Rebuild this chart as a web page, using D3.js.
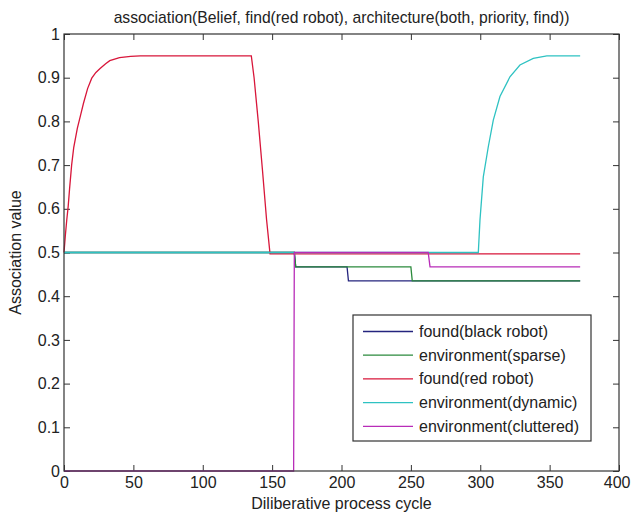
<!DOCTYPE html>
<html><head><meta charset="utf-8">
<script src="https://cdn.jsdelivr.net/npm/d3@7"></script>
<style>body{margin:0;background:#fff}svg{display:block}text{font-family:"Liberation Sans",Arial,sans-serif;fill:#222}</style>
</head><body><svg id="c" width="631" height="518"></svg>
<script>
const titleText = "association(Belief, find(red robot), architecture(both, priority, find))";
const xLabel = "Diliberative process cycle";
const yLabel = "Association value";
const xTicks = [0,50,100,150,200,250,300,350,400];
const yTicks = [0,0.1,0.2,0.3,0.4,0.5,0.6,0.7,0.8,0.9,1];
const seriesNames = ["found(black robot)","environment(sparse)","found(red robot)","environment(dynamic)","environment(cluttered)"];
const seriesColors = ["#24247e","#2b8a3c","#d8163a","#2ec2c2","#b82cb8"];

const cycBlack = [0,166,167,204,205,372];
const valBlack = [0.5,0.5,0.467,0.467,0.435,0.435];
const cycSparse = [0,166,167,250,251,372];
const valSparse = [0.5,0.5,0.467,0.467,0.435,0.435];
const cycRed = [0,1,2,3,4,5.5,7,9.6,12,14,17,20,23,26,30,33,40,48,55,135,137,140,143,146,148.5,372];
const valRed = [0.5,0.54,0.575,0.605,0.645,0.70,0.74,0.784,0.815,0.841,0.875,0.899,0.912,0.921,0.932,0.939,0.946,0.949,0.95,0.95,0.90,0.80,0.69,0.575,0.497,0.497];
const cycDynamic = [0,298.6,299.8,302.2,305.8,309.4,314.2,321.4,328.6,338.2,348,372];
const valDynamic = [0.5,0.5,0.574,0.673,0.742,0.803,0.857,0.902,0.929,0.944,0.95,0.95];
const cycCluttered = [0,165.5,166,262.5,263.8,372];
const valCluttered = [0,0,0.5,0.5,0.467,0.467];

const cycles = [cycBlack,cycSparse,cycRed,cycDynamic,cycCluttered];
const values = [valBlack,valSparse,valRed,valDynamic,valCluttered];

const svg = d3.select("#c");
const L=64,R=619,T=34,B=471;
const FS=16;
const x = d3.scaleLinear().domain([0,400]).range([L,R]);
const y = d3.scaleLinear().domain([0,1]).range([B,T]);
const tl = 6;

// axes
const gx = svg.append("g").attr("transform",`translate(0,${B})`)
  .call(d3.axisBottom(x).tickValues(xTicks).tickSizeInner(-tl).tickSizeOuter(0).tickPadding(6).tickFormat(d3.format("d")));
const gxt = svg.append("g").attr("transform",`translate(0,${T})`)
  .call(d3.axisTop(x).tickValues(xTicks).tickSizeInner(-tl).tickSizeOuter(0).tickFormat(""));
const gy = svg.append("g").attr("transform",`translate(${L},0)`)
  .call(d3.axisLeft(y).tickValues(yTicks).tickSizeInner(-tl).tickSizeOuter(0).tickPadding(4).tickFormat(d=>d3.format("")(+d.toFixed(1))));
const gyr = svg.append("g").attr("transform",`translate(${R},0)`)
  .call(d3.axisRight(y).tickValues(yTicks).tickSizeInner(-tl).tickSizeOuter(0).tickFormat(""));
[gx,gxt,gy,gyr].forEach(g=>{g.select(".domain").remove();g.selectAll("line").attr("stroke","#333");g.selectAll("text").attr("font-size",FS).attr("fill","#222").attr("font-family","Liberation Sans, Arial, sans-serif");});
// keep the last x label inside the picture
gx.selectAll(".tick text").filter(d=>d===400).attr("text-anchor","end").attr("dx","0").attr("x",11);

// lines
const line = d3.line().x(d=>x(d[0])).y(d=>y(d[1]));
cycles.forEach((c,i)=>{
  const pts = c.map((cx,j)=>[cx,values[i][j]]);
  svg.append("path").attr("d",line(pts)).attr("fill","none").attr("stroke",seriesColors[i]).attr("stroke-width",1.3);
});

// frame
svg.append("rect").attr("x",L).attr("y",T).attr("width",R-L).attr("height",B-T).attr("fill","none").attr("stroke","#333").attr("stroke-width",1.2);

// title & labels
svg.append("text").attr("x",(L+R)/2).attr("y",23).attr("text-anchor","middle").attr("font-size",15.7).text(titleText);
svg.append("text").attr("x",(L+R)/2).attr("y",509).attr("text-anchor","middle").attr("font-size",FS).text(xLabel);
svg.append("text").attr("transform",`translate(21,${(T+B)/2}) rotate(-90)`).attr("text-anchor","middle").attr("font-size",FS).text(yLabel);

// legend
const lg = svg.append("g");
lg.append("rect").attr("x",353).attr("y",315).attr("width",238).attr("height",126).attr("fill","#fff").attr("stroke","#333").attr("stroke-width",1.2);
seriesNames.forEach((n,i)=>{
  const cy = 331.5 + i*23.7;
  lg.append("line").attr("x1",363).attr("x2",413).attr("y1",cy).attr("y2",cy).attr("stroke",seriesColors[i]).attr("stroke-width",1.3);
  lg.append("text").attr("x",419).attr("y",cy+5.5).attr("font-size",FS).text(n);
});
</script></body></html>
